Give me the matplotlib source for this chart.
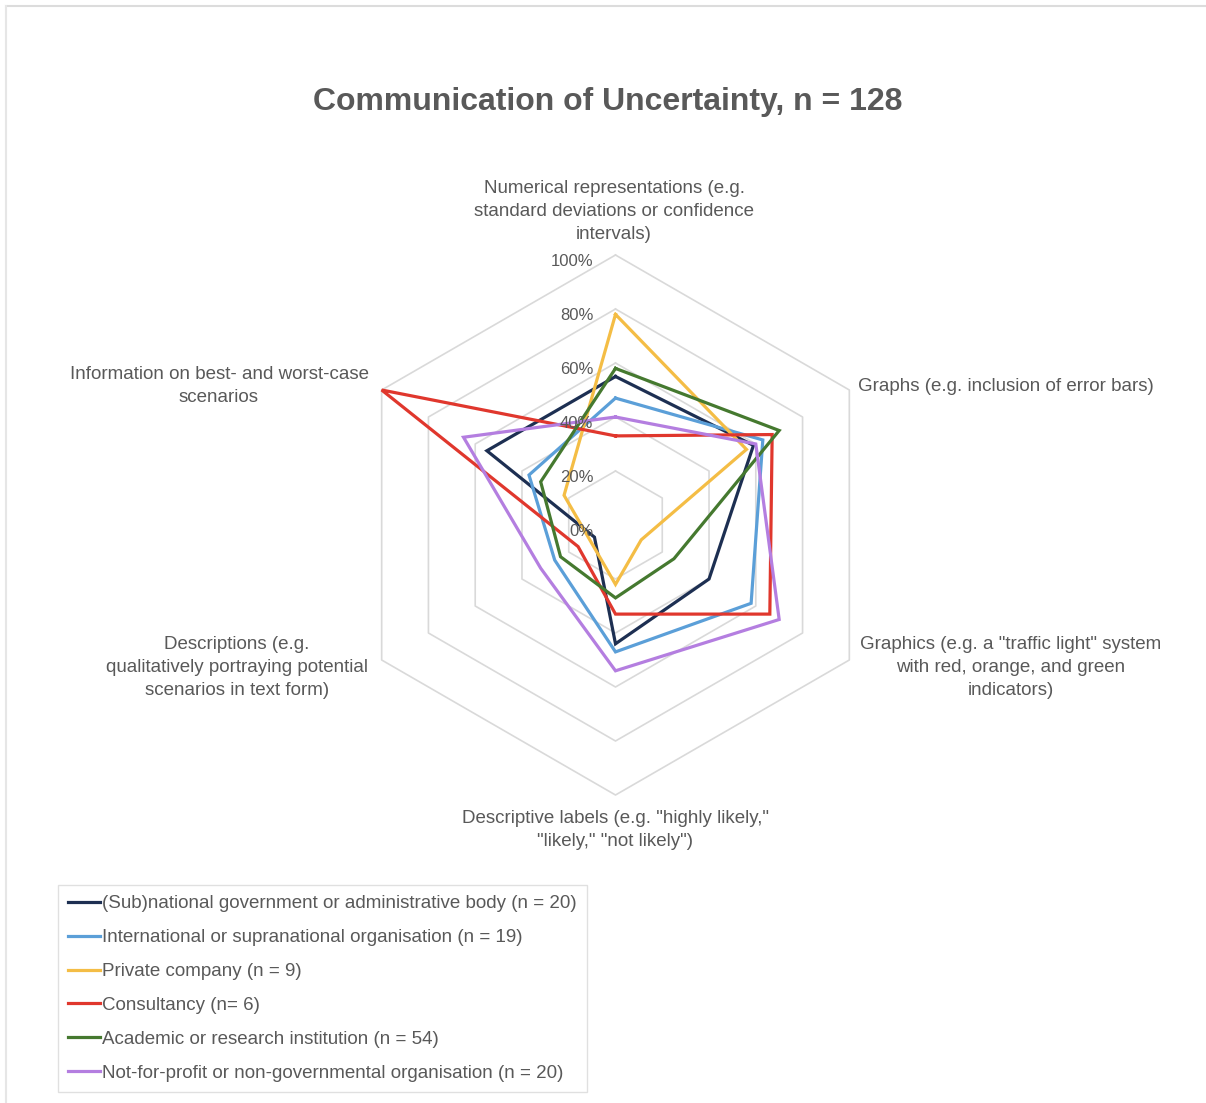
import numpy as np
import matplotlib
matplotlib.use("Agg")
import matplotlib.pyplot as plt
from matplotlib.lines import Line2D

# ---------------- data ----------------
categories = [
    "Numerical representations (e.g.\nstandard deviations or confidence\nintervals)",
    "Graphs (e.g. inclusion of error bars)",
    "Graphics (e.g. a \"traffic light\" system\nwith red, orange, and green\nindicators)",
    "Descriptive labels (e.g. \"highly likely,\"\n\"likely,\" \"not likely\")",
    "Descriptions (e.g.\nqualitatively portraying potential\nscenarios in text form)",
    "Information on best- and worst-case\nscenarios",
]
series_names = [
    "(Sub)national government or administrative body (n = 20)",
    "International or supranational organisation (n = 19)",
    "Private company (n = 9)",
    "Consultancy (n= 6)",
    "Academic or research institution (n = 54)",
    "Not-for-profit or non-governmental organisation (n = 20)",
]
subnational = [0.55, 0.59, 0.40, 0.44, 0.09, 0.55]
international = [0.47, 0.63, 0.58, 0.47, 0.26, 0.37]
private = [0.78, 0.56, 0.11, 0.22, 0.11, 0.22]
consultancy = [0.33, 0.67, 0.66, 0.33, 0.16, 1.00]
academic = [0.58, 0.70, 0.25, 0.27, 0.235, 0.32]
nonprofit = [0.40, 0.60, 0.70, 0.54, 0.32, 0.65]
series_values = [subnational, international, private, consultancy, academic, nonprofit]
tick_values = [0, 20, 40, 60, 80, 100]
title = "Communication of Uncertainty, n = 128"

colors = ["#1d2f52", "#5b9fd8", "#f4bd45", "#e0372d", "#45792f", "#b47ee0"]
text_color = "#595959"
grid_color = "#d9d9d9"

plt.rcParams["font.family"] = ["Liberation Sans", "DejaVu Sans"]

W, H = 1206, 1103
fig = plt.figure(figsize=(W / 100, H / 100), dpi=100)
fig.patch.set_facecolor("white")

# center and radius in pixels
cx, cy, R = 615.5, 525.0, 270.0
ax = fig.add_axes([(cx - R) / W, (H - cy - R) / H, 2 * R / W, 2 * R / H], projection="polar")
ax.set_theta_zero_location("N")
ax.set_theta_direction(-1)
ax.set_ylim(0, 1)
ax.grid(False)
ax.spines["polar"].set_visible(False)
ax.set_xticks([])
ax.set_yticks([])
ax.patch.set_alpha(0)

n = len(categories)
angles = np.linspace(0, 2 * np.pi, n, endpoint=False)
closed_angles = np.concatenate([angles, angles[:1]])

# hexagonal gridlines
for tv in tick_values[1:]:
    r = tv / 100
    ax.plot(closed_angles, [r] * (n + 1), color=grid_color, lw=1.2, zorder=1, clip_on=False)

# tick labels
for tv in tick_values:
    ax.annotate(f"{tv}%", xy=(0, tv / 100), xytext=(-22, -7), textcoords="offset pixels",
                ha="right", va="center", fontsize=12, color=text_color, zorder=5)

# series
for name, vals, col in zip(series_names, series_values, colors):
    v = list(vals) + [vals[0]]
    ax.plot(closed_angles, v, color=col, lw=2.3, label=name, zorder=3, clip_on=False,
            solid_joinstyle="miter")

# category labels (positions in pixels: x, first-line centre y)
label_specs = [
    (614, 188, "center"),
    (858, 386, "left"),
    (1011, 644, "center"),
    (615, 818, "center"),
    (237, 644, "center"),
    (219, 374, "center"),
]
for text, (px, py, ha) in zip(categories, label_specs):
    fig.text(px / W, 1 - (py - 8) / H, text, ha=ha, va="top", fontsize=13.5, color=text_color,
             linespacing=1.45, multialignment="center")

fig.text(608 / W, 1 - 102 / H, title, ha="center", va="center", fontsize=23,
         fontweight="bold", color=text_color)

leg = fig.legend(loc="upper left", bbox_to_anchor=(58 / W, 1 - 885 / H), frameon=True,
                 fancybox=False, edgecolor=grid_color, fontsize=13.5, handlelength=1.7,
                 handletextpad=0.12, labelspacing=0.89, borderpad=0.55, borderaxespad=0)
for t in leg.get_texts():
    t.set_color(text_color)
leg.get_frame().set_linewidth(1.0)

# outer frame lines (top and left)
fig.add_artist(Line2D([6 / W, 1.0], [1 - 6 / H, 1 - 6 / H], color="#dcdcdc", lw=1.5))
fig.add_artist(Line2D([6 / W, 6 / W], [1 - 6 / H, 0], color="#e6e6e6", lw=1.5))

fig.savefig("out.png", dpi=100, facecolor="white")
